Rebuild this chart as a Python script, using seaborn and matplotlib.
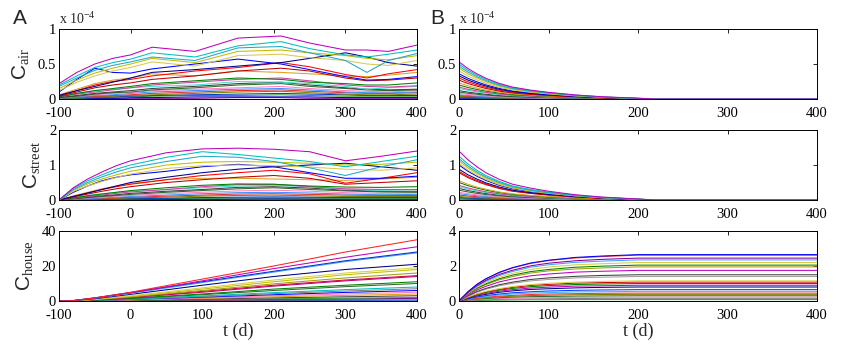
import numpy as np
import pandas as pd
import matplotlib
matplotlib.use("Agg")
import matplotlib.pyplot as plt
import seaborn as sns

# ---------------- data ----------------
# Panel A, C_air (x 1e-4)
t_air_A = [-100, -75, -50, -25, 0, 30, 90, 150, 210, 250, 300, 330, 360, 400]
air_A = [
    [0.22, 0.38, 0.50, 0.58, 0.63, 0.74, 0.68, 0.87, 0.90, 0.80, 0.70, 0.70, 0.68, 0.77],
    [0.20, 0.33, 0.45, 0.52, 0.57, 0.66, 0.60, 0.76, 0.82, 0.72, 0.63, 0.60, 0.64, 0.70],
    [0.18, 0.30, 0.41, 0.48, 0.53, 0.60, 0.55, 0.73, 0.75, 0.66, 0.55, 0.38, 0.55, 0.65],
    [0.15, 0.27, 0.37, 0.44, 0.50, 0.58, 0.52, 0.68, 0.70, 0.66, 0.62, 0.58, 0.56, 0.62],
    [0.12, 0.24, 0.33, 0.40, 0.45, 0.53, 0.47, 0.62, 0.64, 0.59, 0.55, 0.50, 0.48, 0.55],
    [0.10, 0.28, 0.44, 0.38, 0.37, 0.43, 0.50, 0.57, 0.50, 0.42, 0.32, 0.27, 0.28, 0.32],
    [0.05, 0.12, 0.18, 0.24, 0.30, 0.38, 0.42, 0.47, 0.52, 0.58, 0.66, 0.60, 0.52, 0.47],
    [0.05, 0.12, 0.20, 0.25, 0.28, 0.33, 0.40, 0.45, 0.52, 0.46, 0.35, 0.30, 0.36, 0.42],
    [0.04, 0.10, 0.16, 0.20, 0.23, 0.28, 0.33, 0.40, 0.44, 0.40, 0.30, 0.26, 0.27, 0.30],
    [0.06, 0.14, 0.22, 0.27, 0.30, 0.36, 0.33, 0.40, 0.38, 0.36, 0.33, 0.32, 0.34, 0.38],
    [0.03, 0.08, 0.12, 0.15, 0.18, 0.22, 0.26, 0.30, 0.28, 0.24, 0.22, 0.20, 0.20, 0.23],
    [0.03, 0.07, 0.10, 0.13, 0.16, 0.20, 0.24, 0.28, 0.30, 0.26, 0.20, 0.18, 0.17, 0.19],
    [0.04, 0.08, 0.12, 0.14, 0.16, 0.18, 0.20, 0.25, 0.24, 0.22, 0.18, 0.14, 0.16, 0.18],
    [0.02, 0.05, 0.08, 0.10, 0.12, 0.15, 0.18, 0.22, 0.24, 0.20, 0.16, 0.14, 0.13, 0.14],
    [0.02, 0.04, 0.07, 0.09, 0.10, 0.13, 0.16, 0.20, 0.22, 0.18, 0.15, 0.13, 0.12, 0.13],
    [0.02, 0.04, 0.06, 0.08, 0.09, 0.12, 0.14, 0.16, 0.18, 0.15, 0.12, 0.11, 0.10, 0.12],
    [0.01, 0.03, 0.05, 0.06, 0.08, 0.10, 0.12, 0.14, 0.15, 0.13, 0.10, 0.09, 0.09, 0.10],
    [0.01, 0.03, 0.04, 0.05, 0.06, 0.08, 0.10, 0.12, 0.13, 0.11, 0.09, 0.08, 0.08, 0.09],
    [0.01, 0.02, 0.03, 0.04, 0.05, 0.06, 0.08, 0.10, 0.11, 0.09, 0.07, 0.06, 0.06, 0.07],
    [0.01, 0.02, 0.03, 0.03, 0.04, 0.05, 0.06, 0.07, 0.08, 0.07, 0.06, 0.05, 0.05, 0.05],
    [0.00, 0.01, 0.02, 0.02, 0.03, 0.04, 0.05, 0.05, 0.06, 0.05, 0.04, 0.04, 0.04, 0.04],
    [0.00, 0.01, 0.01, 0.01, 0.02, 0.02, 0.03, 0.03, 0.03, 0.03, 0.02, 0.02, 0.02, 0.02],
    [0.00, 0.00, 0.01, 0.01, 0.01, 0.01, 0.01, 0.02, 0.02, 0.01, 0.01, 0.01, 0.01, 0.01],
]

# Panel A, C_street
t_street_A = [-100, -80, -60, -40, -20, 0, 50, 100, 150, 200, 250, 300, 350, 400]
street_A = [
    [0.00, 0.35, 0.60, 0.80, 0.98, 1.12, 1.35, 1.46, 1.48, 1.45, 1.38, 1.12, 1.25, 1.40],
    [0.00, 0.33, 0.55, 0.72, 0.88, 1.00, 1.22, 1.38, 1.30, 1.20, 1.10, 0.95, 1.10, 1.25],
    [0.00, 0.30, 0.50, 0.66, 0.80, 0.92, 1.10, 1.25, 1.22, 1.10, 0.92, 0.70, 0.95, 1.15],
    [0.00, 0.28, 0.46, 0.60, 0.72, 0.82, 1.00, 1.08, 1.10, 1.08, 1.05, 1.00, 1.02, 1.08],
    [0.00, 0.25, 0.40, 0.53, 0.64, 0.74, 0.90, 0.98, 1.00, 0.98, 0.94, 0.88, 0.85, 0.92],
    [0.00, 0.22, 0.40, 0.55, 0.65, 0.72, 0.82, 0.95, 1.02, 0.95, 0.78, 0.62, 0.62, 0.68],
    [0.00, 0.10, 0.20, 0.30, 0.40, 0.50, 0.65, 0.78, 0.88, 0.95, 1.00, 1.05, 0.95, 0.85],
    [0.00, 0.10, 0.20, 0.30, 0.38, 0.45, 0.58, 0.70, 0.78, 0.85, 0.75, 0.48, 0.62, 0.78],
    [0.00, 0.09, 0.17, 0.25, 0.32, 0.38, 0.50, 0.58, 0.65, 0.70, 0.62, 0.45, 0.50, 0.55],
    [0.00, 0.12, 0.22, 0.32, 0.40, 0.47, 0.58, 0.62, 0.62, 0.60, 0.58, 0.56, 0.60, 0.65],
    [0.00, 0.06, 0.12, 0.17, 0.22, 0.27, 0.35, 0.42, 0.46, 0.45, 0.40, 0.37, 0.36, 0.38],
    [0.00, 0.05, 0.10, 0.14, 0.19, 0.23, 0.30, 0.38, 0.44, 0.45, 0.38, 0.32, 0.30, 0.30],
    [0.00, 0.07, 0.13, 0.18, 0.22, 0.25, 0.30, 0.35, 0.40, 0.42, 0.38, 0.30, 0.28, 0.30],
    [0.00, 0.04, 0.08, 0.12, 0.15, 0.19, 0.25, 0.30, 0.36, 0.38, 0.34, 0.28, 0.25, 0.25],
    [0.00, 0.03, 0.07, 0.10, 0.13, 0.16, 0.22, 0.27, 0.32, 0.35, 0.30, 0.26, 0.23, 0.22],
    [0.00, 0.03, 0.06, 0.08, 0.11, 0.13, 0.18, 0.22, 0.26, 0.28, 0.25, 0.21, 0.19, 0.20],
    [0.00, 0.02, 0.04, 0.06, 0.08, 0.10, 0.14, 0.18, 0.21, 0.22, 0.20, 0.17, 0.15, 0.16],
    [0.00, 0.02, 0.03, 0.05, 0.06, 0.08, 0.11, 0.14, 0.17, 0.18, 0.16, 0.14, 0.13, 0.13],
    [0.00, 0.01, 0.02, 0.04, 0.05, 0.06, 0.08, 0.11, 0.13, 0.14, 0.12, 0.10, 0.10, 0.10],
    [0.00, 0.01, 0.02, 0.02, 0.03, 0.04, 0.05, 0.07, 0.08, 0.09, 0.08, 0.07, 0.07, 0.07],
    [0.00, 0.01, 0.01, 0.02, 0.02, 0.03, 0.04, 0.05, 0.06, 0.06, 0.06, 0.05, 0.05, 0.05],
    [0.00, 0.00, 0.01, 0.01, 0.01, 0.02, 0.02, 0.03, 0.03, 0.04, 0.03, 0.03, 0.03, 0.03],
    [0.00, 0.00, 0.00, 0.01, 0.01, 0.01, 0.01, 0.01, 0.02, 0.02, 0.02, 0.01, 0.01, 0.01],
]

# Panel A, C_house
t_house_A = [-100, -85, -50, 0, 100, 200, 300, 400]
house_A = [
    [0, 0, 1.8, 5.0, 12.5, 20.0, 28.0, 35.0],
    [0, 0, 1.7, 4.7, 11.5, 18.5, 25.0, 31.0],
    [0, 0, 1.8, 4.8, 11.0, 17.0, 23.0, 28.0],
    [0, 0, 1.6, 4.3, 10.5, 16.5, 22.5, 27.5],
    [0, 0, 1.3, 3.8, 9.0, 14.0, 18.0, 21.0],
    [0, 0, 1.0, 3.0, 7.5, 12.0, 16.0, 19.0],
    [0, 0, 0.9, 2.6, 6.8, 11.0, 15.0, 18.0],
    [0, 0, 0.8, 2.3, 6.0, 9.8, 13.2, 16.0],
    [0, 0, 0.8, 2.2, 5.5, 9.0, 12.0, 14.5],
    [0, 0, 0.7, 2.0, 5.0, 8.5, 11.5, 14.0],
    [0, 0, 0.5, 1.6, 4.0, 6.8, 9.0, 11.0],
    [0, 0, 0.5, 1.4, 3.6, 6.0, 8.2, 10.0],
    [0, 0, 0.4, 1.1, 2.9, 4.8, 6.5, 8.0],
    [0, 0, 0.3, 1.0, 2.5, 4.2, 5.7, 7.0],
    [0, 0, 0.3, 0.9, 2.2, 3.6, 4.9, 6.0],
    [0, 0, 0.2, 0.7, 1.8, 3.0, 4.0, 5.0],
    [0, 0, 0.2, 0.6, 1.5, 2.4, 3.2, 4.0],
    [0, 0, 0.1, 0.4, 1.1, 1.8, 2.4, 3.0],
    [0, 0, 0.1, 0.3, 0.7, 1.2, 1.6, 2.0],
    [0, 0, 0.1, 0.2, 0.5, 0.9, 1.2, 1.5],
    [0, 0, 0.0, 0.1, 0.4, 0.6, 0.8, 1.0],
    [0, 0, 0.0, 0.1, 0.2, 0.3, 0.4, 0.5],
]

# Panel B, C_air (x 1e-4)
t_air_B = [0, 10, 20, 30, 45, 60, 80, 100, 130, 160, 200, 220, 400]
air_B = [
    [0.53, 0.435, 0.36, 0.297, 0.223, 0.17, 0.127, 0.095, 0.058, 0.032, 0.011, 0, 0],
    [0.50, 0.41, 0.34, 0.28, 0.21, 0.16, 0.12, 0.09, 0.055, 0.03, 0.01, 0, 0],
    [0.47, 0.385, 0.32, 0.263, 0.197, 0.15, 0.113, 0.085, 0.052, 0.028, 0.009, 0, 0],
    [0.44, 0.36, 0.30, 0.246, 0.185, 0.141, 0.106, 0.079, 0.048, 0.026, 0.009, 0, 0],
    [0.40, 0.328, 0.272, 0.224, 0.168, 0.128, 0.096, 0.072, 0.044, 0.024, 0.008, 0, 0],
    [0.36, 0.295, 0.245, 0.202, 0.151, 0.115, 0.086, 0.065, 0.04, 0.022, 0.007, 0, 0],
    [0.33, 0.27, 0.224, 0.185, 0.139, 0.106, 0.079, 0.059, 0.036, 0.02, 0.007, 0, 0],
    [0.30, 0.246, 0.204, 0.168, 0.126, 0.096, 0.072, 0.054, 0.033, 0.018, 0.006, 0, 0],
    [0.27, 0.221, 0.184, 0.151, 0.113, 0.086, 0.065, 0.049, 0.03, 0.016, 0.005, 0, 0],
    [0.23, 0.189, 0.156, 0.129, 0.097, 0.074, 0.055, 0.041, 0.025, 0.014, 0.005, 0, 0],
    [0.20, 0.164, 0.136, 0.112, 0.084, 0.064, 0.048, 0.036, 0.022, 0.012, 0.004, 0, 0],
    [0.17, 0.139, 0.116, 0.095, 0.071, 0.054, 0.041, 0.031, 0.019, 0.01, 0.003, 0, 0],
    [0.15, 0.123, 0.102, 0.084, 0.063, 0.048, 0.036, 0.027, 0.017, 0.009, 0.003, 0, 0],
    [0.12, 0.098, 0.082, 0.067, 0.05, 0.038, 0.029, 0.022, 0.013, 0.007, 0.002, 0, 0],
    [0.10, 0.082, 0.068, 0.056, 0.042, 0.032, 0.024, 0.018, 0.011, 0.006, 0.002, 0, 0],
    [0.08, 0.066, 0.054, 0.045, 0.034, 0.026, 0.019, 0.014, 0.009, 0.005, 0.002, 0, 0],
    [0.06, 0.049, 0.041, 0.034, 0.025, 0.019, 0.014, 0.011, 0.007, 0.004, 0.001, 0, 0],
    [0.05, 0.041, 0.034, 0.028, 0.021, 0.016, 0.012, 0.009, 0.006, 0.003, 0.001, 0, 0],
    [0.04, 0.033, 0.027, 0.022, 0.017, 0.013, 0.01, 0.007, 0.004, 0.002, 0.001, 0, 0],
    [0.03, 0.025, 0.02, 0.017, 0.013, 0.01, 0.007, 0.005, 0.003, 0.002, 0.001, 0, 0],
    [0.02, 0.016, 0.014, 0.011, 0.008, 0.006, 0.005, 0.004, 0.002, 0.001, 0, 0, 0],
    [0.01, 0.008, 0.007, 0.006, 0.004, 0.003, 0.002, 0.002, 0.001, 0.001, 0, 0, 0],
]

# Panel B, C_street
t_street_B = [0, 10, 20, 30, 45, 60, 80, 100, 130, 160, 200, 220, 400]
street_B = [
    [1.40, 1.15, 0.95, 0.78, 0.59, 0.45, 0.34, 0.25, 0.15, 0.084, 0.028, 0, 0],
    [1.25, 1.03, 0.85, 0.70, 0.53, 0.40, 0.30, 0.225, 0.138, 0.075, 0.025, 0, 0],
    [1.18, 0.97, 0.80, 0.66, 0.50, 0.38, 0.28, 0.21, 0.13, 0.071, 0.024, 0, 0],
    [1.12, 0.92, 0.76, 0.63, 0.47, 0.36, 0.27, 0.20, 0.123, 0.067, 0.022, 0, 0],
    [1.05, 0.86, 0.71, 0.59, 0.44, 0.34, 0.25, 0.19, 0.116, 0.063, 0.021, 0, 0],
    [1.00, 0.82, 0.68, 0.56, 0.42, 0.32, 0.24, 0.18, 0.11, 0.06, 0.02, 0, 0],
    [0.88, 0.72, 0.60, 0.49, 0.37, 0.28, 0.21, 0.158, 0.097, 0.053, 0.018, 0, 0],
    [0.82, 0.67, 0.56, 0.46, 0.34, 0.26, 0.197, 0.148, 0.09, 0.049, 0.016, 0, 0],
    [0.78, 0.64, 0.53, 0.44, 0.33, 0.25, 0.187, 0.14, 0.086, 0.047, 0.016, 0, 0],
    [0.55, 0.45, 0.37, 0.31, 0.23, 0.176, 0.132, 0.099, 0.06, 0.033, 0.011, 0, 0],
    [0.50, 0.41, 0.34, 0.28, 0.21, 0.16, 0.12, 0.09, 0.055, 0.03, 0.01, 0, 0],
    [0.42, 0.344, 0.286, 0.235, 0.176, 0.134, 0.101, 0.076, 0.046, 0.025, 0.008, 0, 0],
    [0.38, 0.31, 0.26, 0.213, 0.16, 0.122, 0.091, 0.068, 0.042, 0.023, 0.008, 0, 0],
    [0.33, 0.27, 0.224, 0.185, 0.139, 0.106, 0.079, 0.059, 0.036, 0.02, 0.007, 0, 0],
    [0.28, 0.23, 0.19, 0.157, 0.118, 0.09, 0.067, 0.05, 0.031, 0.017, 0.006, 0, 0],
    [0.22, 0.18, 0.15, 0.123, 0.092, 0.07, 0.053, 0.04, 0.024, 0.013, 0.004, 0, 0],
    [0.18, 0.148, 0.122, 0.10, 0.076, 0.058, 0.043, 0.032, 0.02, 0.011, 0.004, 0, 0],
    [0.14, 0.115, 0.095, 0.078, 0.059, 0.045, 0.034, 0.025, 0.015, 0.008, 0.003, 0, 0],
    [0.10, 0.082, 0.068, 0.056, 0.042, 0.032, 0.024, 0.018, 0.011, 0.006, 0.002, 0, 0],
    [0.07, 0.057, 0.048, 0.039, 0.029, 0.022, 0.017, 0.013, 0.008, 0.004, 0.001, 0, 0],
    [0.05, 0.041, 0.034, 0.028, 0.021, 0.016, 0.012, 0.009, 0.006, 0.003, 0.001, 0, 0],
    [0.03, 0.025, 0.02, 0.017, 0.013, 0.01, 0.007, 0.005, 0.003, 0.002, 0.001, 0, 0],
]

# Panel B, C_house
t_house_B = [0, 10, 20, 30, 45, 60, 80, 100, 130, 160, 200, 400]
house_B = [
    [0, 0.53, 0.95, 1.27, 1.64, 1.91, 2.17, 2.33, 2.49, 2.57, 2.65, 2.65],
    [0, 0.52, 0.94, 1.26, 1.62, 1.89, 2.15, 2.31, 2.46, 2.54, 2.62, 2.62],
    [0, 0.49, 0.88, 1.18, 1.52, 1.76, 2.01, 2.16, 2.30, 2.38, 2.45, 2.45],
    [0, 0.47, 0.85, 1.13, 1.46, 1.69, 1.93, 2.07, 2.21, 2.28, 2.35, 2.35],
    [0, 0.44, 0.79, 1.06, 1.36, 1.58, 1.80, 1.94, 2.07, 2.13, 2.20, 2.20],
    [0, 0.41, 0.74, 0.98, 1.27, 1.48, 1.68, 1.80, 1.93, 1.99, 2.05, 2.05],
    [0, 0.39, 0.70, 0.94, 1.21, 1.40, 1.60, 1.72, 1.83, 1.89, 1.95, 1.95],
    [0, 0.35, 0.63, 0.84, 1.09, 1.26, 1.44, 1.54, 1.65, 1.70, 1.75, 1.75],
    [0, 0.30, 0.54, 0.72, 0.93, 1.08, 1.23, 1.32, 1.41, 1.46, 1.50, 1.50],
    [0, 0.28, 0.50, 0.67, 0.87, 1.01, 1.15, 1.23, 1.32, 1.36, 1.40, 1.40],
    [0, 0.23, 0.41, 0.55, 0.71, 0.83, 0.94, 1.01, 1.08, 1.12, 1.15, 1.15],
    [0, 0.22, 0.39, 0.52, 0.67, 0.78, 0.89, 0.95, 1.02, 1.05, 1.08, 1.08],
    [0, 0.20, 0.36, 0.48, 0.62, 0.72, 0.82, 0.88, 0.94, 0.97, 1.00, 1.00],
    [0, 0.18, 0.32, 0.43, 0.56, 0.65, 0.74, 0.79, 0.85, 0.87, 0.90, 0.90],
    [0, 0.16, 0.29, 0.38, 0.50, 0.58, 0.66, 0.70, 0.75, 0.78, 0.80, 0.80],
    [0, 0.13, 0.23, 0.31, 0.40, 0.47, 0.53, 0.57, 0.61, 0.63, 0.65, 0.65],
    [0, 0.11, 0.20, 0.26, 0.34, 0.40, 0.45, 0.48, 0.52, 0.53, 0.55, 0.55],
    [0, 0.09, 0.16, 0.22, 0.28, 0.32, 0.37, 0.40, 0.42, 0.44, 0.45, 0.45],
    [0, 0.08, 0.14, 0.18, 0.24, 0.27, 0.31, 0.33, 0.36, 0.37, 0.38, 0.38],
    [0, 0.06, 0.11, 0.14, 0.19, 0.22, 0.25, 0.26, 0.28, 0.29, 0.30, 0.30],
    [0, 0.04, 0.08, 0.11, 0.14, 0.16, 0.18, 0.19, 0.21, 0.21, 0.22, 0.22],
    [0, 0.03, 0.05, 0.07, 0.09, 0.11, 0.12, 0.13, 0.14, 0.15, 0.15, 0.15],
    [0, 0.02, 0.03, 0.04, 0.05, 0.06, 0.07, 0.07, 0.08, 0.08, 0.08, 0.08],
]

xticks_A = [-100, 0, 100, 200, 300, 400]
xticks_B = [0, 100, 200, 300, 400]
yticks_air = [0, 0.5, 1]
yticks_street = [0, 1, 2]
yticks_house_A = [0, 20, 40]
yticks_house_B = [0, 2, 4]

# ---------------- styles ----------------
conc_colors = ['#BF00BF', '#00BFBF', '#20A8C8', '#BFBF00', '#D8C850', '#0000FF',
               '#00008B', '#FF0000', '#C00000', '#E0A020', '#008000', '#D040A0',
               '#40E0D0', '#404040', '#2E6B2E', '#FF80C0', '#4090FF', '#E03030',
               '#808000', '#0040C0', '#30A030', '#0000CC', '#8000A0']
house_A_colors = ['#FF2020', '#C000C0', '#0030D0', '#40A0FF', '#00008B', '#D8D040',
                  '#BFBF00', '#A0A000', '#D00050', '#C00080', '#008000', '#2E6B2E',
                  '#00BFBF', '#808080', '#0000FF', '#FF80C0', '#E0A020', '#404040',
                  '#30A030', '#8000A0', '#C08040', '#0040C0']
house_B_colors = ['#0000FF', '#FF3030', '#8000A0', '#40A0FF', '#D8D040', '#008000',
                  '#A0A000', '#C000C0', '#404040', '#A0A0A0', '#D8D040', '#D00000',
                  '#008000', '#C000C0', '#00008B', '#0040FF', '#40B0FF', '#FF3030',
                  '#808000', '#2E6B2E', '#FF80C0', '#808080', '#30A030']

sns.set_theme(style="white")
plt.rcParams['font.family'] = ['Liberation Serif', 'DejaVu Serif']
plt.rcParams['mathtext.fontset'] = 'custom'
plt.rcParams['mathtext.rm'] = 'Liberation Serif'
plt.rcParams['mathtext.sf'] = 'Liberation Sans'
plt.rcParams['mathtext.it'] = 'Liberation Serif:italic'


def long_df(t, series):
    rows = []
    for i, s in enumerate(series):
        for tt, v in zip(t, s):
            rows.append((f"L{i:02d}", tt, v))
    return pd.DataFrame(rows, columns=["line", "t", "v"])


W, H = 850, 346
fig = plt.figure(figsize=(W / 100, H / 100), dpi=100)


def make_ax(left, top, right, bottom):
    return fig.add_axes([left / W, 1 - bottom / H, (right - left) / W, (bottom - top) / H])


rows_px = [(29, 99), (130, 200), (231, 301)]
cols_px = [(59, 417), (459, 817)]

panels = [
    (0, 0, t_air_A, air_A, conc_colors, (-100, 400), xticks_A, (0, 1), yticks_air),
    (1, 0, t_street_A, street_A, conc_colors, (-100, 400), xticks_A, (0, 2), yticks_street),
    (2, 0, t_house_A, house_A, house_A_colors, (-100, 400), xticks_A, (0, 40), yticks_house_A),
    (0, 1, t_air_B, air_B, conc_colors, (0, 400), xticks_B, (0, 1), yticks_air),
    (1, 1, t_street_B, street_B, conc_colors, (0, 400), xticks_B, (0, 2), yticks_street),
    (2, 1, t_house_B, house_B, house_B_colors, (0, 400), xticks_B, (0, 4), yticks_house_B),
]

axes = {}
for r, c, t, series, cols, xl, xt, yl, yt in panels:
    top, bot = rows_px[r]
    lft, rgt = cols_px[c]
    ax = make_ax(lft, top, rgt, bot)
    df = long_df(t, series)
    order = [f"L{i:02d}" for i in range(len(series))]
    # draw from bottom (small) to top so upper lines stay visible
    sns.lineplot(data=df, x="t", y="v", hue="line", hue_order=order[::-1],
                 palette=cols[:len(series)][::-1], estimator=None, legend=False,
                 linewidth=0.75, ax=ax)
    ax.set_xlim(*xl)
    ax.set_ylim(*yl)
    ax.set_xticks(xt)
    ax.set_yticks(yt)
    ax.set_xticklabels([str(v) for v in xt])
    ax.set_yticklabels([("%g" % v) for v in yt])
    ax.set_xlabel("")
    ax.set_ylabel("")
    ax.tick_params(direction="in", length=3, width=0.6, top=True, right=True,
                   labelsize=10.5, colors="black")
    ax.tick_params(axis="x", pad=5.5)
    ax.tick_params(axis="y", pad=2)
    for sp in ax.spines.values():
        sp.set_linewidth(0.7)
        sp.set_color("black")
    ax.set_facecolor("white")
    axes[(r, c)] = ax

ylabels = [r'$\mathsf{C}_{\mathrm{air}}$', r'$\mathsf{C}_{\mathrm{street}}$',
           r'$\mathsf{C}_{\mathrm{house}}$']
for r, lab in enumerate(ylabels):
    ax = axes[(r, 0)]
    ax.set_ylabel(lab, fontsize=15, labelpad=5)

for c in (0, 1):
    ax = axes[(2, c)]
    ax.set_xlabel("t (d)", fontsize=13, labelpad=1)
    ax0 = axes[(0, c)]
    ax0.text(0.0, 1.03, r'x 10$^{-4}$', transform=ax0.transAxes, fontsize=10,
             ha='left', va='bottom')

fig.text(20 / W, 1 - 19 / H, "A", fontsize=15, family="Liberation Sans", ha="center", va="center")
fig.text(437 / W, 1 - 19 / H, "B", fontsize=15, family="Liberation Sans", ha="center", va="center")

fig.savefig("out.png", dpi=100, facecolor="white")
